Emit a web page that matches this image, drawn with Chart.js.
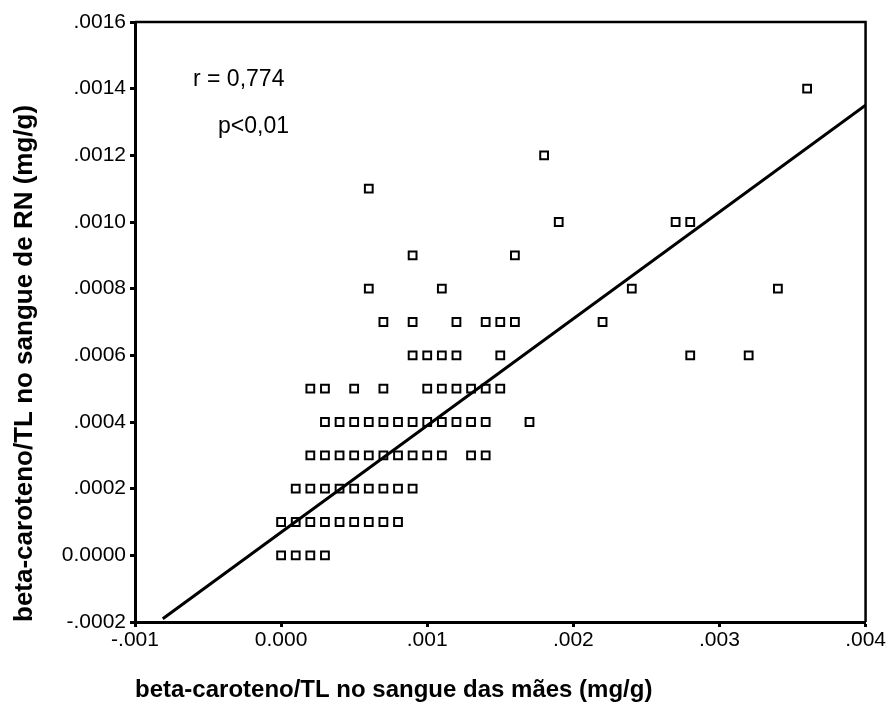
<!DOCTYPE html>
<html>
<head>
<meta charset="utf-8">
<script src="https://cdn.jsdelivr.net/npm/chart.js@4/dist/chart.umd.min.js"></script>
<style>
  html, body { margin: 0; padding: 0; background: #ffffff; }
  #wrap { width: 887px; height: 723px; }
</style>
</head>
<body>
<div id="wrap"><canvas id="c" width="887" height="723"></canvas></div>
<script>
// beta-caroteno/TL no sangue das mães (x) vs no sangue de RN (y)
const maeBetaCaroteno = [
  0.0000, 0.0001, 0.0002, 0.0003,
  0.0000, 0.0001, 0.0002, 0.0003, 0.0004, 0.0005, 0.0006, 0.0007, 0.0008,
  0.0001, 0.0002, 0.0003, 0.0004, 0.0005, 0.0006, 0.0007, 0.0008, 0.0009,
  0.0002, 0.0003, 0.0004, 0.0005, 0.0006, 0.0007, 0.0008, 0.0009, 0.0010, 0.0011, 0.0013, 0.0014,
  0.0003, 0.0004, 0.0005, 0.0006, 0.0007, 0.0008, 0.0009, 0.0010, 0.0011, 0.0012, 0.0013, 0.0014, 0.0017,
  0.0002, 0.0003, 0.0005, 0.0007, 0.0010, 0.0011, 0.0012, 0.0013, 0.0014, 0.0015,
  0.0009, 0.0010, 0.0011, 0.0012, 0.0015, 0.0028, 0.0032,
  0.0007, 0.0009, 0.0012, 0.0014, 0.0015, 0.0016, 0.0022,
  0.0006, 0.0011, 0.0024, 0.0034,
  0.0009, 0.0016,
  0.0019, 0.0027, 0.0028,
  0.0006,
  0.0018,
  0.0036
];
const rnBetaCaroteno = [
  0.0000, 0.0000, 0.0000, 0.0000,
  0.0001, 0.0001, 0.0001, 0.0001, 0.0001, 0.0001, 0.0001, 0.0001, 0.0001,
  0.0002, 0.0002, 0.0002, 0.0002, 0.0002, 0.0002, 0.0002, 0.0002, 0.0002,
  0.0003, 0.0003, 0.0003, 0.0003, 0.0003, 0.0003, 0.0003, 0.0003, 0.0003, 0.0003, 0.0003, 0.0003,
  0.0004, 0.0004, 0.0004, 0.0004, 0.0004, 0.0004, 0.0004, 0.0004, 0.0004, 0.0004, 0.0004, 0.0004, 0.0004,
  0.0005, 0.0005, 0.0005, 0.0005, 0.0005, 0.0005, 0.0005, 0.0005, 0.0005, 0.0005,
  0.0006, 0.0006, 0.0006, 0.0006, 0.0006, 0.0006, 0.0006,
  0.0007, 0.0007, 0.0007, 0.0007, 0.0007, 0.0007, 0.0007,
  0.0008, 0.0008, 0.0008, 0.0008,
  0.0009, 0.0009,
  0.0010, 0.0010, 0.0010,
  0.0011,
  0.0012,
  0.0014
];
// regression line end points
const retaX = [-0.00081, 0.004];
const retaY = [-0.00019, 0.00135];

const xTickValues = [-0.001, 0.000, 0.001, 0.002, 0.003, 0.004];
const xTickLabels = ['-.001', '0.000', '.001', '.002', '.003', '.004'];
const yTickValues = [-0.0002, 0.0000, 0.0002, 0.0004, 0.0006, 0.0008, 0.0010, 0.0012, 0.0014, 0.0016];
const yTickLabels = ['-.0002', '0.0000', '.0002', '.0004', '.0006', '.0008', '.0010', '.0012', '.0014', '.0016'];

const xTitle = 'beta-caroteno/TL no sangue das mães (mg/g)';
const yTitle = 'beta-caroteno/TL no sangue de RN (mg/g)';
const annotations = ['r = 0,774', 'p<0,01'];

const FONT = "'Liberation Sans', Arial, sans-serif";

const scatterPts = maeBetaCaroteno.map((x, i) => ({ x: x, y: rnBetaCaroteno[i] }));
const linePts = retaX.map((x, i) => ({ x: x, y: retaY[i] }));

const framePlugin = {
  id: 'frameAndText',
  afterDraw(chart) {
    const ctx = chart.ctx;
    const a = chart.chartArea;
    ctx.save();
    ctx.strokeStyle = '#000';
    ctx.lineWidth = 2.5;
    ctx.beginPath();
    ctx.moveTo(a.left, a.top);
    ctx.lineTo(a.right, a.top);
    ctx.lineTo(a.right, a.bottom);
    ctx.stroke();
    ctx.fillStyle = '#000';
    ctx.font = '23px ' + FONT;
    ctx.textBaseline = 'alphabetic';
    ctx.textAlign = 'left';
    ctx.fillText(annotations[0], a.left + 58, a.top + 64);
    ctx.fillText(annotations[1], a.left + 83, a.top + 111);
    ctx.restore();
  }
};

new Chart(document.getElementById('c'), {
  type: 'scatter',
  data: {
    datasets: [
      {
        type: 'scatter',
        data: scatterPts,
        pointStyle: 'rect',
        pointRadius: 5.5,
        pointBorderWidth: 2,
        borderColor: '#000',
        backgroundColor: 'rgba(0,0,0,0)',
        pointBackgroundColor: 'rgba(0,0,0,0)',
        pointBorderColor: '#000',
        order: 2
      },
      {
        type: 'line',
        data: linePts,
        borderColor: '#000',
        borderWidth: 3,
        pointRadius: 0,
        fill: false,
        order: 1
      }
    ]
  },
  options: {
    responsive: false,
    animation: false,
    devicePixelRatio: 1,
    layout: { padding: { top: 22, right: 21, left: 0, bottom: 0 } },
    plugins: { legend: { display: false }, tooltip: { enabled: false } },
    scales: {
      x: {
        type: 'linear',
        min: -0.001,
        max: 0.004,
        afterBuildTicks: s => { s.ticks = xTickValues.map(v => ({ value: v })); },
        afterFit: s => { s.height = 101; },
        ticks: {
          callback: (v, i) => xTickLabels[i],
          color: '#000',
          font: { family: FONT, size: 21 },
          padding: 1,
          maxRotation: 0,
          autoSkip: false
        },
        grid: { drawOnChartArea: false, drawTicks: true, tickLength: 5, tickWidth: 3, tickColor: '#000' },
        border: { display: true, color: '#000', width: 3 },
        title: {
          display: true,
          text: xTitle,
          align: 'start',
          color: '#000',
          font: { family: FONT, size: 24, weight: 'bold' },
          padding: { top: 0, bottom: 18 }
        }
      },
      y: {
        type: 'linear',
        min: -0.0002,
        max: 0.0016,
        afterBuildTicks: s => { s.ticks = yTickValues.map(v => ({ value: v })); },
        afterFit: s => { s.width = 135; },
        ticks: {
          callback: (v, i) => yTickLabels[i],
          color: '#000',
          font: { family: FONT, size: 21 },
          padding: 4,
          autoSkip: false
        },
        grid: { drawOnChartArea: false, drawTicks: true, tickLength: 5, tickWidth: 3, tickColor: '#000' },
        border: { display: true, color: '#000', width: 3 },
        title: {
          display: true,
          text: yTitle,
          align: 'start',
          color: '#000',
          font: { family: FONT, size: 26, weight: 'bold' },
          padding: { top: 9, bottom: 0 }
        }
      }
    }
  },
  plugins: [framePlugin]
});
</script>
</body>
</html>
